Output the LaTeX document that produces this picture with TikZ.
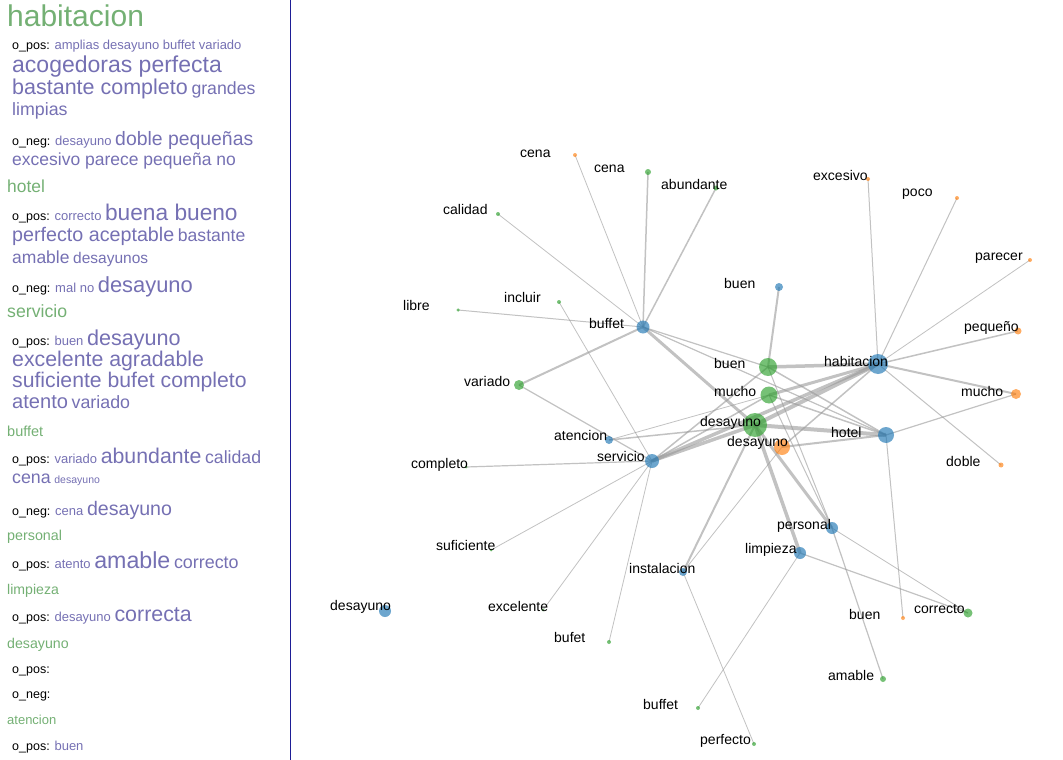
\documentclass[tikz,border=0pt]{standalone}
\usepackage{fontspec}
\setmainfont{Liberation Sans}
\usepackage{xcolor}
\usepackage{tikz}
\usetikzlibrary{positioning,backgrounds}
\definecolor{aspblue}{HTML}{1F77B4}
\definecolor{posgreen}{HTML}{2CA02C}
\definecolor{negorange}{HTML}{FF7F0E}
\definecolor{headgreen}{RGB}{116,176,116}
\definecolor{wordpurple}{HTML}{7570B3}
\definecolor{edgegray}{HTML}{999999}
\definecolor{rulenavy}{RGB}{30,30,150}
\tikzstyle{aspect} = [circle, fill=aspblue, fill opacity=0.65, inner sep=0pt]
\tikzstyle{opos} = [circle, fill=posgreen, fill opacity=0.65, inner sep=0pt]
\tikzstyle{oneg} = [circle, fill=negorange, fill opacity=0.65, inner sep=0pt]
\tikzstyle{lbl} = [anchor=base west, inner sep=0pt, font=\fontsize{14}{16}\selectfont]
\tikzstyle{txt} = [anchor=base west, inner sep=0pt, font=\fontsize{13}{13}\selectfont]
\tikzstyle{edge} = [draw=edgegray, draw opacity=0.6]
\newcommand{\wrd}[2]{{\fontsize{#1}{#1}\selectfont\color{wordpurple}#2}}
\newcommand{\head}[2]{{\fontsize{#1}{#1}\selectfont\color{headgreen}#2}}
\newcommand{\opl}[1]{{\fontsize{12.5}{13}\selectfont #1}}

\begin{document}
\begin{tikzpicture}[x=1pt,y=-1pt]
		%\draw[help lines,step=50] (0,0) grid (1063,760); %Hilfsgitter in Pixeln
		\useasboundingbox (0,0) rectangle (1063,760);
		\draw[rulenavy] (290,0) -- (290,760); % Trennlinie

		% Liste links
		\node[txt] (t1)  at (7,27)   {\head{30}{habitacion}};
		\node[txt] (t2)  at (12,50)  {\opl{o\_pos:} \wrd{13}{amplias desayuno buffet variado}};
		\node[txt] (t3)  at (12,73)  {\wrd{23}{acogedoras perfecta}};
		\node[txt] (t4)  at (12,94)  {\wrd{21.5}{bastante completo} \wrd{17.7}{grandes}};
		\node[txt] (t5)  at (12,115) {\wrd{17.8}{limpias}};
		\node[txt] (t6)  at (12,145) {\opl{o\_neg:} \wrd{13}{desayuno} \wrd{19.4}{doble pequeñas}};
		\node[txt] (t7)  at (12,165) {\wrd{17.5}{excesivo parece pequeña no}};
		\node[txt] (t8)  at (7,192)  {\head{17.4}{hotel}};
		\node[txt] (t9)  at (12,220) {\opl{o\_pos:} \wrd{13}{correcto} \wrd{22.7}{buena bueno}};
		\node[txt] (t10) at (12,241) {\wrd{19.7}{perfecto aceptable} \wrd{17.6}{bastante}};
		\node[txt] (t11) at (12,263) {\wrd{17.5}{amable} \wrd{15.5}{desayunos}};
		\node[txt] (t12) at (12,292) {\opl{o\_neg:} \wrd{13}{mal no} \wrd{21.9}{desayuno}};
		\node[txt] (t13) at (7,317)  {\head{17.7}{servicio}};
		\node[txt] (t14) at (12,345) {\opl{o\_pos:} \wrd{13}{buen} \wrd{21.6}{desayuno}};
		\node[txt] (t15) at (12,366) {\wrd{21.3}{excelente agradable}};
		\node[txt] (t16) at (12,387) {\wrd{21.2}{suficiente bufet completo}};
		\node[txt] (t17) at (12,408) {\wrd{20.1}{atento} \wrd{17.8}{variado}};
		\node[txt] (t18) at (7,436)  {\head{14.5}{buffet}};
		\node[txt] (t19) at (12,463) {\opl{o\_pos:} \wrd{13}{variado} \wrd{21.3}{abundante} \wrd{17.7}{calidad}};
		\node[txt] (t20) at (12,483) {\wrd{17.8}{cena} \wrd{10.5}{desayuno}};
		\node[txt] (t21) at (12,515) {\opl{o\_neg:} \wrd{13}{cena} \wrd{19.6}{desayuno}};
		\node[txt] (t22) at (7,540)  {\head{14.3}{personal}};
		\node[txt] (t23) at (12,568) {\opl{o\_pos:} \wrd{13}{atento} \wrd{23.2}{amable} \wrd{17.9}{correcto}};
		\node[txt] (t24) at (7,594)  {\head{14.1}{limpieza}};
		\node[txt] (t25) at (12,621) {\opl{o\_pos:} \wrd{13}{desayuno} \wrd{21.4}{correcta}};
		\node[txt] (t26) at (7,648)  {\head{14.2}{desayuno}};
		\node[txt] (t27) at (12,673) {\opl{o\_pos:}};
		\node[txt] (t28) at (12,698) {\opl{o\_neg:}};
		\node[txt] (t29) at (7,724)  {\head{13}{atencion}};
		\node[txt] (t30) at (12,750) {\opl{o\_pos:} \wrd{13}{buen}};

		% Aspekte (blau)
		\node[aspect,minimum size=20pt] (habitacion)  at (878,364) {};
		\node[aspect,minimum size=16pt] (hotel)       at (886,435) {};
		\node[aspect,minimum size=13pt] (buffetA)     at (643,327) {};
		\node[aspect,minimum size=14pt] (servicio)    at (652,461) {};
		\node[aspect,minimum size=8pt]  (atencion)    at (609,440) {};
		\node[aspect,minimum size=12pt] (personal)    at (832,528) {};
		\node[aspect,minimum size=12pt] (limpieza)    at (800,553) {};
		\node[aspect,minimum size=8pt]  (instalacion) at (683,572) {};
		\node[aspect,minimum size=8pt]  (buenA)       at (779,287) {};
		\node[aspect,minimum size=12pt] (desayunoA)   at (385,611) {};
		% positiv (gruen)
		\node[opos,minimum size=18pt] (buenP)       at (768,367) {};
		\node[opos,minimum size=17pt] (muchoP)      at (769,395) {};
		\node[opos,minimum size=24pt] (desayunoP)   at (755,425) {};
		\node[opos,minimum size=10pt] (variadoP)    at (519,385) {};
		\node[opos,minimum size=6pt]  (cenaP)       at (648,172) {};
		\node[opos,minimum size=5pt]  (abundanteP)  at (716,188) {};
		\node[opos,minimum size=4pt]  (calidadP)    at (498,214) {};
		\node[opos,minimum size=3.5pt](libreP)      at (458,310) {};
		\node[opos,minimum size=4pt]  (incluirP)    at (559,302) {};
		\node[opos,minimum size=3pt]  (completoP)   at (466,467) {};
		\node[opos,minimum size=3pt]  (suficienteP) at (491,550) {};
		\node[opos,minimum size=3pt]  (excelenteP)  at (543,610) {};
		\node[opos,minimum size=4pt]  (bufetP)      at (609,642) {};
		\node[opos,minimum size=9pt]  (correctoP)   at (968,613) {};
		\node[opos,minimum size=6pt]  (amableP)     at (883,679) {};
		\node[opos,minimum size=4pt]  (buffetP)     at (698,708) {};
		\node[opos,minimum size=4pt]  (perfectoP)   at (754,744) {};
		% negativ (orange)
		\node[oneg,minimum size=16pt] (desayunoN)   at (782,447) {};
		\node[oneg,minimum size=4pt]  (cenaN)       at (575,155) {};
		\node[oneg,minimum size=4pt]  (excesivoN)   at (868,179) {};
		\node[oneg,minimum size=4pt]  (pocoN)       at (957,198) {};
		\node[oneg,minimum size=4pt]  (parecerN)    at (1030,260) {};
		\node[oneg,minimum size=7pt]  (pequenoN)    at (1018,331) {};
		\node[oneg,minimum size=10pt] (muchoN)      at (1016,394) {};
		\node[oneg,minimum size=5pt]  (dobleN)      at (1001,465) {};
		\node[oneg,minimum size=4pt]  (buenN)       at (903,618) {};

		% Kanten
		\begin{scope}[on background layer]
		\foreach \a/\b/\w in {buffetA/cenaN/0.8, buffetA/cenaP/1.5, buffetA/abundanteP/1.5,
				buffetA/calidadP/0.8, buffetA/libreP/1, buffetA/variadoP/2, buffetA/buenP/1.2,
				buffetA/hotel/1.2, buffetA/desayunoP/3,
				habitacion/excesivoN/1, habitacion/pocoN/1, habitacion/parecerN/0.8,
				habitacion/pequenoN/1.5, habitacion/muchoN/2, habitacion/dobleN/1,
				habitacion/buenP/3.5, habitacion/muchoP/3, habitacion/desayunoP/4,
				habitacion/servicio/3.5, habitacion/desayunoN/1.5,
				hotel/buenP/1.5, hotel/muchoP/1.5, hotel/desayunoP/4, hotel/desayunoN/2,
				hotel/muchoN/1.2, hotel/buenN/1,
				servicio/completoP/1.2, servicio/suficienteP/0.8, servicio/excelenteP/0.8,
				servicio/bufetP/0.8, servicio/variadoP/1.2, servicio/incluirP/0.8,
				servicio/desayunoP/3.5, servicio/buenP/1.5, servicio/muchoP/1.5,
				atencion/desayunoP/1.5, atencion/muchoP/0.8, buenA/buenP/2,
				personal/desayunoP/3, personal/buenP/1, personal/muchoP/1,
				personal/amableP/1.2, personal/correctoP/0.8,
				limpieza/desayunoP/3.5, limpieza/correctoP/1.2, limpieza/buffetP/0.8,
				instalacion/desayunoP/2, instalacion/desayunoN/0.8, instalacion/perfectoP/0.8}
			\draw[edge,line width=\w pt] (\a.center) -- (\b.center);
		\end{scope}

		% Beschriftungen
		\node[lbl] (l-habitacion)  at (824,366) {habitacion};
		\node[lbl] (l-hotel)       at (831,437) {hotel};
		\node[lbl] (l-buffetA)     at (589,328) {buffet};
		\node[lbl] (l-servicio)    at (597,461) {servicio};
		\node[lbl] (l-atencion)    at (554,440) {atencion};
		\node[lbl] (l-personal)    at (777,529) {personal};
		\node[lbl] (l-limpieza)    at (745,553) {limpieza};
		\node[lbl] (l-instalacion) at (629,573) {instalacion};
		\node[lbl] (l-buenA)       at (724,288) {buen};
		\node[lbl] (l-desayunoA)   at (330,610) {desayuno};
		\node[lbl] (l-buenP)       at (714,368) {buen};
		\node[lbl] (l-muchoP)      at (714,396) {mucho};
		\node[lbl] (l-desayunoP)   at (700,426) {desayuno};
		\node[lbl] (l-variadoP)    at (464,386) {variado};
		\node[lbl] (l-cenaP)       at (594,172) {cena};
		\node[lbl] (l-abundanteP)  at (661,189) {abundante};
		\node[lbl] (l-calidadP)    at (443,214) {calidad};
		\node[lbl] (l-libreP)      at (403,310) {libre};
		\node[lbl] (l-incluirP)    at (504,302) {incluir};
		\node[lbl] (l-completoP)   at (411,468) {completo};
		\node[lbl] (l-suficienteP) at (436,550) {suficiente};
		\node[lbl] (l-excelenteP)  at (488,611) {excelente};
		\node[lbl] (l-bufetP)      at (554,642) {bufet};
		\node[lbl] (l-correctoP)   at (914,613) {correcto};
		\node[lbl] (l-amableP)     at (828,680) {amable};
		\node[lbl] (l-buffetP)     at (643,709) {buffet};
		\node[lbl] (l-perfectoP)   at (700,744) {perfecto};
		\node[lbl] (l-desayunoN)   at (727,446) {desayuno};
		\node[lbl] (l-cenaN)       at (520,157) {cena};
		\node[lbl] (l-excesivoN)   at (813,180) {excesivo};
		\node[lbl] (l-pocoN)       at (902,196) {poco};
		\node[lbl] (l-parecerN)    at (975,260) {parecer};
		\node[lbl] (l-pequenoN)    at (964,331) {pequeño};
		\node[lbl] (l-muchoN)      at (961,396) {mucho};
		\node[lbl] (l-dobleN)      at (946,466) {doble};
		\node[lbl] (l-buenN)       at (849,619) {buen};
\end{tikzpicture}
\end{document}
